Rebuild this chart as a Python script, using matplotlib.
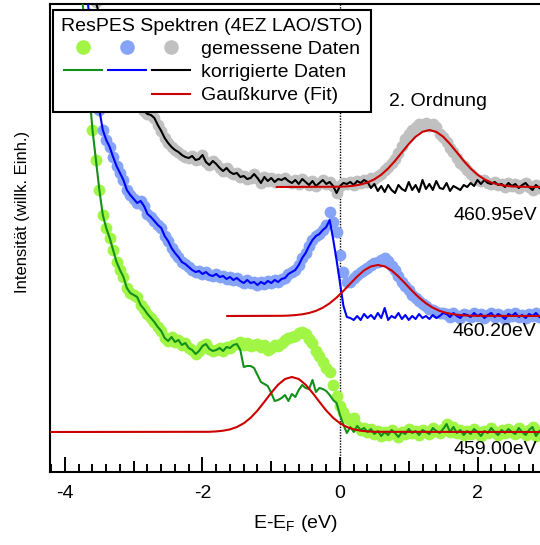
import matplotlib
matplotlib.use('Agg')
import matplotlib.pyplot as plt
from matplotlib.lines import Line2D
from matplotlib.legend_handler import HandlerTuple
from matplotlib.ticker import MultipleLocator
import numpy as np

plt.rcParams['font.family'] = ['Liberation Sans', 'DejaVu Sans']
plt.rcParams['mathtext.fontset'] = 'custom'
plt.rcParams['mathtext.rm'] = 'Liberation Sans'

step = 0.05  # eV grid of the spectra

# 459.00 eV (green)
green_e0 = -3.75
green_meas = [475, 432, 383, 342, 312, 282, 257, 244, 234, 222,
              210, 202, 195, 184, 179, 177, 175, 167, 163, 158,
              154, 150, 145, 141, 134, 131, 135, 130, 132, 127,
              129, 124, 122, 118, 121, 126, 128, 123, 121, 122,
              124, 121, 125, 124, 127, 128, 130, 127, 129, 126,
              127, 128, 125, 127, 122, 124, 127, 126, 129, 132,
              134, 135, 136, 139, 140, 138, 133, 129, 121, 116,
              110, 104, 100, 87, 76, 66, 60, 54, 52, 54,
              46, 42, 44, 40, 43, 38, 41, 36, 40, 37,
              42, 39, 35, 40, 38, 43, 39, 41, 37, 42,
              40, 38, 44, 41, 39, 43, 48, 40, 45, 39,
              42, 37, 41, 38, 43, 40, 36, 41, 39, 44,
              40, 37, 42, 39, 43, 40, 38, 44, 40, 37,
              42, 45, 36, 41]
green_corr_e0 = -1.45
green_corr_part = [122, 105, 106, 106, 104, 97, 90, 88, 86, 79,
                   71, 72, 74, 77, 71, 78, 75, 82, 87, 84,
                   83, 92, 80, 84, 83, 81, 77, 72, 69, 57,
                   47, 39, 45, 40]
green_fit_e = [-4.3, -1.9, -1.8, -1.7, -1.6, -1.5, -1.4, -1.3, -1.2, -1.1, -1.0,
               -0.9, -0.8, -0.7, -0.6, -0.5, -0.4, -0.3, -0.2, -0.1, 0.0,
               0.1, 0.2, 0.3, 0.4, 0.5, 3.0]
green_fit = [40.0, 40.2, 40.6, 41.3, 42.6, 45.0, 48.7, 54.2, 61.5, 70.2, 79.2,
             87.3, 93.0, 95.0, 93.0, 87.3, 79.2, 70.2, 61.5, 54.2, 48.7,
             45.0, 42.6, 41.3, 40.6, 40.2, 40.0]

# 460.20 eV (blue)
blue_e0 = -3.70
blue_meas = [490, 458, 426, 394, 362, 342, 332, 325, 315, 306,
             299, 292, 282, 277, 273, 269, 271, 266, 258, 255,
             251, 247, 244, 236, 231, 224, 219, 215, 210, 208,
             205, 202, 200, 201, 198, 200, 197, 196, 198, 195,
             196, 193, 195, 192, 194, 191, 189, 192, 189, 190,
             187, 190, 188, 191, 189, 192, 190, 193, 194, 198,
             200, 202, 207, 214, 219, 226, 232, 236, 238, 242,
             247, 260, 250, 240, 217, 200, 190, 190, 194, 197,
             200, 202, 204, 207, 209, 210, 212, 214, 211, 206,
             202, 196, 190, 186, 182, 177, 174, 171, 168, 166,
             163, 162, 160, 159, 159, 158, 155, 159, 156, 154,
             158, 157, 155, 159, 156, 158, 154, 157, 159, 155,
             158, 156, 153, 158, 156, 159, 155, 157, 154, 158,
             156, 159, 155]
blue_corr_e0 = -0.20
blue_corr_part = [245, 252, 233, 212, 189, 166, 155, 154, 152, 156,
                  152, 158, 154, 157, 153, 159, 154, 164, 152, 156,
                  154, 159, 153, 157, 152, 156, 153, 158, 154, 156,
                  153, 157, 154, 156]
blue_fit_e = [-1.64, -0.85, -0.75, -0.65, -0.55, -0.45, -0.35, -0.25, -0.15, -0.05,
              0.05, 0.15, 0.25, 0.35, 0.45, 0.55, 0.65, 0.75, 0.85, 0.95,
              1.05, 1.15, 1.25, 1.35, 1.45, 1.55, 1.65, 1.75, 1.85, 1.95, 2.95]
blue_fit = [156.0, 156.2, 156.4, 156.9, 157.7, 159.0, 161.1, 164.3, 168.7, 174.4,
            181.1, 188.4, 195.5, 201.6, 205.6, 207.0, 205.6, 201.6, 195.5, 188.4,
            181.1, 174.4, 168.7, 164.3, 161.1, 159.0, 157.7, 156.9, 156.4, 156.2, 156.0]

# 460.95 eV (grey / black)
grey_e0 = -3.60
grey_meas = [490, 470, 457, 444, 432, 422, 412, 404, 397, 390,
             384, 379, 374, 369, 365, 361, 358, 357, 354, 347,
             341, 334, 329, 325, 322, 320, 317, 315, 314, 316,
             312, 313, 317, 310, 307, 311, 308, 304, 301, 304,
             300, 298, 299, 295, 296, 293, 294, 298, 294, 289,
             295, 291, 294, 290, 293, 292, 294, 291, 289, 292,
             288, 293, 290, 287, 291, 286, 289, 292, 288, 290,
             286, 279, 286, 289, 288, 290, 287, 291, 289, 292,
             290, 294, 293, 296, 298, 302, 305, 309, 313, 319,
             326, 333, 338, 342, 345, 348, 347, 349, 346, 348,
             345, 338, 335, 330, 324, 320, 314, 309, 306, 302,
             298, 295, 292, 291, 292, 289, 288, 290, 287, 288,
             285, 289, 286, 288, 284, 287, 289, 285, 282, 287,
             284]
grey_corr_e0 = 0.40
grey_corr_part = [290, 284, 288, 281, 286, 280, 287, 282, 279, 287,
                  283, 281, 290, 282, 287, 280, 292, 283, 288, 282,
                  291, 284, 283, 289, 281, 286, 284, 282, 287, 285,
                  289, 286, 292, 288]
grey_fit_e = [-0.92, 0.0, 0.1, 0.2, 0.3, 0.4, 0.5, 0.6, 0.7, 0.8, 0.9, 1.0, 1.1, 1.2,
              1.3, 1.4, 1.5, 1.6, 1.7, 1.8, 1.9, 2.0, 2.1, 2.2, 2.3, 2.4, 2.5, 2.6, 2.95]
grey_fit = [285.0, 285.3, 285.6, 286.3, 287.5, 289.5, 292.7, 297.3, 303.5, 311.1,
            319.6, 328.0, 335.3, 340.2, 342.0, 340.2, 335.3, 328.0, 319.6, 311.1,
            303.5, 297.3, 292.7, 289.5, 287.5, 286.3, 285.6, 285.3, 285.0]

labels = ['460.95eV', '460.20eV', '459.00eV']
label_y = [257, 141, 22]

dot_colors = ['#a0f545', '#85a3f7', '#c0c0c0']
line_colors = ['#12901a', '#0000ff', '#000000']
fit_color = '#cc0000'


def energies(e0, vals):
    return e0 + step * np.arange(len(vals))


def corrected(e0, meas, c0, part):
    out = np.array(meas, dtype=float)
    i = int(round((c0 - e0) / step))
    out[i:i + len(part)] = part
    return out


spectra = [
    (green_e0, green_meas, green_corr_e0, green_corr_part, green_fit_e, green_fit),
    (blue_e0, blue_meas, blue_corr_e0, blue_corr_part, blue_fit_e, blue_fit),
    (grey_e0, grey_meas, grey_corr_e0, grey_corr_part, grey_fit_e, grey_fit),
]

fig = plt.figure(figsize=(5.4, 5.45), dpi=100)
ax = fig.add_axes([50 / 540, 73 / 545, 490 / 540, 468 / 545])

ax.axvline(0, color='black', ls=(0, (1, 1)), lw=1, zorder=1)

for (e0, meas, c0, part, fe, fv), dc, lc in zip(spectra, dot_colors, line_colors):
    e = energies(e0, meas)
    ax.plot(e, meas, 'o', ms=8.5, color=dc, mec='none', zorder=2)
    ax.plot(e, corrected(e0, meas, c0, part), color=lc, lw=1.5, zorder=3)
    ax.plot(fe, fv, color=fit_color, lw=1.5, zorder=4)

for lab, y in zip(labels, label_y):
    ax.text(2.86, y, lab, ha='right', va='center', fontsize=14)
ax.text(1.42, 371, '2. Ordnung', ha='center', va='center', fontsize=14)

ax.set_xlim(-4.218, 2.909)
ax.set_ylim(0, 468)
ax.set_yticks([])

major = np.arange(-4, 3)
ax.set_xticks(major)
ax.set_xticklabels([str(v) if v % 2 == 0 else '' for v in major])
ax.xaxis.set_minor_locator(MultipleLocator(0.2))
ax.tick_params(axis='x', which='major', direction='in', length=10.8, width=1.4,
               labelsize=14, pad=9)
ax.tick_params(axis='x', which='minor', direction='in', length=5.8, width=1.4)
for t, v in zip(ax.xaxis.get_major_ticks(), major):
    if v % 2:
        t.tick1line.set_markersize(7.9)

for s in ['left', 'bottom', 'top']:
    ax.spines[s].set_linewidth(1.5)
ax.spines['right'].set_visible(False)

ax.set_xlabel('E-E$_\\mathrm{F}$ (eV)', fontsize=14, labelpad=8)
ax.set_ylabel('Intensität (willk. Einh.)', fontsize=12)
ax.yaxis.set_label_coords(-0.04, 0.556)

none = Line2D([], [], ls='none')
h_meas = tuple(Line2D([], [], ls='none', marker='o', ms=10.5, color=c, mec='none')
               for c in dot_colors)
h_corr = tuple(Line2D([], [], color=c, lw=1.5) for c in line_colors)
h_fit = (none, none, Line2D([], [], color=fit_color, lw=1.5))
leg = ax.legend([h_meas, h_corr, h_fit],
                ['gemessene Daten', 'korrigierte Daten', 'Gaußkurve (Fit)'],
                handler_map={tuple: HandlerTuple(ndivide=None, pad=0.31)},
                title='ResPES Spektren (4EZ LAO/STO)', title_fontsize=14, fontsize=14,
                loc='upper left', bbox_to_anchor=(3 / 490, 1 - 6 / 468), borderaxespad=0,
                handlelength=6.5, handletextpad=0.55, labelspacing=0.28, borderpad=0.42,
                fancybox=False, framealpha=1, edgecolor='black')
leg.get_frame().set_linewidth(1.5)
leg.set_zorder(10)

fig.savefig('out.png', dpi=100)
